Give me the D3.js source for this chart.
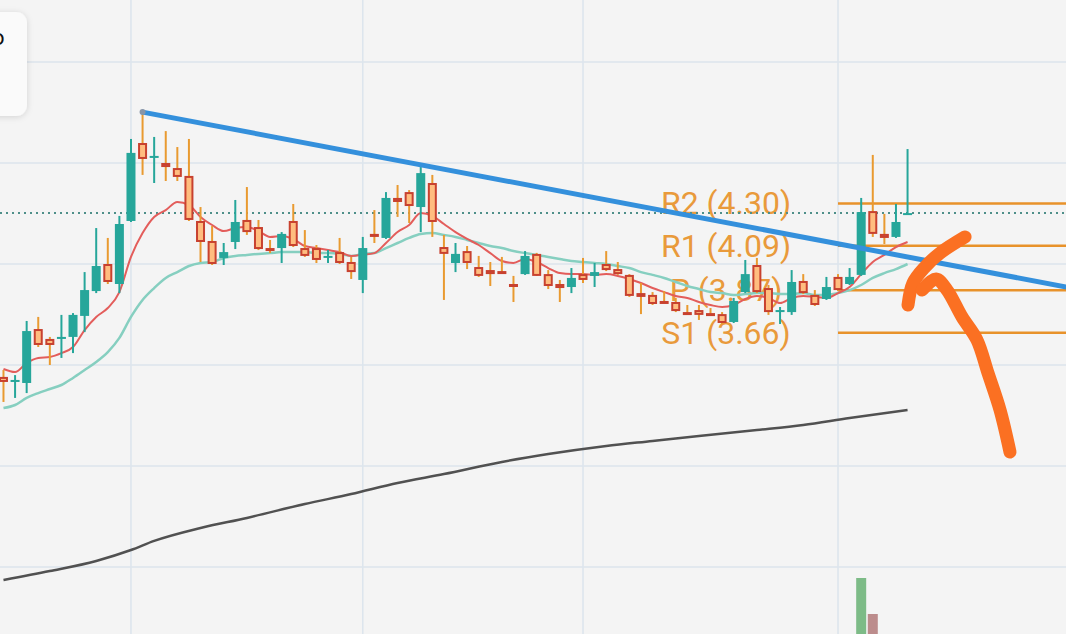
<!DOCTYPE html>
<html>
<head>
<meta charset="utf-8">
<title>Daily candles with pivots</title>
<script src="https://cdn.jsdelivr.net/npm/d3@7/dist/d3.min.js"></script>
<style>
  html, body { margin: 0; padding: 0; background: #f4f4f4; overflow: hidden; }
  svg { display: block; font-family: Roboto, "Noto Sans", sans-serif; }
</style>
</head>
<body>
<svg id="chart" width="1066" height="634"></svg>
<script>
// daily candles, oldest first
var opens = [
  3.441, 3.416, 3.411, 3.678, 3.629, 3.629, 3.639, 3.743, 3.866, 4.000,
  3.901, 4.213, 4.599, 4.530, 4.500, 4.475, 4.436, 4.213, 4.114, 4.030,
  4.109, 4.218, 4.183, 4.079, 4.079, 4.213, 4.079, 4.079, 4.035, 4.059,
  4.010, 3.921, 4.149, 4.129, 4.327, 4.356, 4.282, 4.401, 4.084, 4.005,
  4.064, 3.985, 3.970, 3.965, 3.901, 3.950, 4.050, 3.950, 3.901, 3.886,
  3.950, 3.941, 4.000, 3.975, 3.946, 3.856, 3.847, 3.817, 3.812, 3.762,
  3.772, 3.757, 3.752, 3.713, 3.861, 3.995, 3.881, 3.762, 3.762, 3.916,
  3.847, 3.827, 3.936, 3.901, 3.946, 4.262, 4.149, 4.134, 4.243];
var highs = [
  3.475, 3.450, 3.718, 3.738, 3.639, 3.748, 3.757, 3.960, 4.178, 4.129,
  4.238, 4.619, 4.752, 4.629, 4.658, 4.579, 4.619, 4.282, 4.188, 4.104,
  4.317, 4.381, 4.218, 4.119, 4.158, 4.297, 4.168, 4.094, 4.069, 4.129,
  4.035, 4.134, 4.267, 4.356, 4.391, 4.366, 4.480, 4.441, 4.144, 4.104,
  4.089, 4.040, 4.010, 4.035, 3.941, 4.064, 4.055, 3.970, 3.921, 3.980,
  4.030, 4.005, 4.064, 4.010, 3.950, 3.906, 3.861, 3.866, 3.832, 3.797,
  3.797, 3.782, 3.762, 3.832, 4.020, 4.030, 3.896, 3.787, 3.970, 3.950,
  3.871, 3.936, 3.950, 3.980, 4.327, 4.540, 4.248, 4.297, 4.569];
var lows = [
  3.317, 3.337, 3.361, 3.589, 3.500, 3.535, 3.559, 3.663, 3.856, 3.901,
  3.856, 4.208, 4.441, 4.401, 4.411, 4.411, 4.213, 4.010, 3.995, 3.995,
  4.074, 4.144, 4.069, 4.054, 4.005, 4.084, 4.035, 4.005, 4.005, 4.000,
  3.926, 3.856, 4.104, 4.124, 4.233, 4.203, 4.158, 4.134, 3.822, 3.960,
  3.975, 3.936, 3.891, 3.955, 3.812, 3.946, 3.941, 3.876, 3.812, 3.856,
  3.906, 3.886, 3.965, 3.946, 3.837, 3.752, 3.797, 3.807, 3.762, 3.752,
  3.723, 3.743, 3.703, 3.708, 3.856, 3.856, 3.748, 3.703, 3.748, 3.851,
  3.792, 3.822, 3.866, 3.896, 3.941, 4.134, 4.099, 4.129, 4.243];
var closes = [
  3.416, 3.426, 3.668, 3.599, 3.599, 3.639, 3.748, 3.871, 3.990, 3.911,
  4.198, 4.550, 4.520, 4.535, 4.480, 4.431, 4.218, 4.109, 4.000, 4.059,
  4.208, 4.158, 4.074, 4.069, 4.149, 4.089, 4.040, 4.020, 4.040, 4.005,
  3.960, 4.079, 4.134, 4.327, 4.307, 4.287, 4.450, 4.208, 4.050, 4.050,
  4.005, 3.941, 3.950, 3.960, 3.891, 4.040, 3.941, 3.891, 3.881, 3.931,
  3.921, 3.960, 3.970, 3.950, 3.842, 3.837, 3.802, 3.812, 3.767, 3.757,
  3.748, 3.748, 3.708, 3.817, 3.950, 3.861, 3.762, 3.772, 3.911, 3.856,
  3.797, 3.886, 3.871, 3.936, 4.257, 4.149, 4.129, 4.208, 4.252];

// moving averages, one value per candle
var maFast = [
  3.480, 3.465, 3.510, 3.535, 3.540, 3.559, 3.589, 3.673, 3.738, 3.782,
  3.861, 4.035, 4.153, 4.233, 4.267, 4.307, 4.292, 4.233, 4.193, 4.163,
  4.178, 4.183, 4.163, 4.134, 4.139, 4.124, 4.089, 4.079, 4.069, 4.059,
  4.040, 4.045, 4.054, 4.104, 4.158, 4.193, 4.252, 4.238, 4.198, 4.158,
  4.124, 4.094, 4.054, 4.015, 4.005, 4.025, 4.010, 3.980, 3.955, 3.950,
  3.950, 3.946, 3.950, 3.941, 3.926, 3.906, 3.881, 3.861, 3.842, 3.832,
  3.812, 3.797, 3.787, 3.797, 3.827, 3.842, 3.832, 3.807, 3.832, 3.842,
  3.837, 3.832, 3.856, 3.886, 3.950, 4.010, 4.045, 4.084, 4.109];
var maSlow = [
  3.287, 3.302, 3.337, 3.361, 3.381, 3.401, 3.436, 3.475, 3.515, 3.564,
  3.634, 3.738, 3.822, 3.881, 3.931, 3.960, 3.990, 4.005, 4.010, 4.030,
  4.040, 4.045, 4.050, 4.054, 4.059, 4.059, 4.059, 4.054, 4.054, 4.050,
  4.040, 4.050, 4.054, 4.079, 4.104, 4.129, 4.149, 4.153, 4.144, 4.134,
  4.119, 4.104, 4.089, 4.079, 4.064, 4.054, 4.045, 4.035, 4.025, 4.015,
  4.010, 4.005, 4.000, 3.990, 3.980, 3.960, 3.946, 3.931, 3.911, 3.891,
  3.876, 3.861, 3.856, 3.847, 3.851, 3.856, 3.856, 3.851, 3.851, 3.856,
  3.847, 3.847, 3.856, 3.871, 3.896, 3.931, 3.955, 3.975, 4.000];
// long average, read at a few candles
var maLongAt = [0, 4, 8, 11, 13, 17, 21, 26, 30, 34, 38, 43, 47, 52, 56, 60, 65, 69, 73, 78];
var maLong = [2.436, 2.480, 2.530, 2.584, 2.629, 2.693, 2.743, 2.812, 2.861, 2.916,
              2.960, 3.020, 3.059, 3.099, 3.124, 3.149, 3.178, 3.203, 3.238, 3.277];

// volume (only the bars that show at the bottom)
var volumeAt = [74, 75];
var volume = [8.2, 4.6];
var volumeUp = [true, false];

// pivot points of the current month
var pivotNames = ['R2', 'R1', 'P', 'S1'];
var pivotValues = [4.30, 4.09, 3.87, 3.66];
var pivotStart = 72;

// axis
var priceTicks = [2.5, 3.0, 3.5, 4.0, 4.5, 5.0];
var monthStarts = [11, 31, 50, 72];

// drawn trend line, [candle index, price]
var trendLine = [[12, 4.752], [91.7, 3.886]];
// hand drawn arrow, two strokes, [candle index, price]
var arrowStrokes = [
  [[82.96, 4.134], [80.8, 4.054], [79.5, 3.985], [78.47, 3.906], [78.04, 3.797]],
  [[79.25, 3.871], [80.46, 3.926], [81.41, 3.871], [82.7, 3.738], [83.99, 3.624],
   [84.94, 3.46], [85.98, 3.277], [86.84, 3.069]]
];

var W = 1066, H = 634;
var UP = '#26a69a', DN_WICK = '#e99a30', DN_FILL = '#ffbd7f', DN_EDGE = '#c8412f';

var x = d3.scaleLinear().domain([-0.3, 91.67]).range([0, W]);
var y = d3.scaleLinear().domain([2.5, 5.0]).range([567, 62]);
var volY = d3.scaleLinear().domain([0, 10]).range([660, 560]);

var svg = d3.select('#chart');
var defs = svg.append('defs');
var shadow = defs.append('filter').attr('id', 'shadow')
  .attr('x', '-50%').attr('y', '-50%').attr('width', '200%').attr('height', '200%');
shadow.append('feDropShadow').attr('dx', 0).attr('dy', 1).attr('stdDeviation', 3)
  .attr('flood-color', '#000').attr('flood-opacity', 0.14);

svg.append('rect').attr('width', W).attr('height', H).attr('fill', '#f4f4f4');

// grid
svg.append('g').selectAll('line').data(priceTicks).enter().append('line')
  .attr('x1', 0).attr('x2', W)
  .attr('y1', function(d){ return y(d); }).attr('y2', function(d){ return y(d); })
  .attr('stroke', '#dde5ed').attr('stroke-width', 1.6);
svg.append('g').selectAll('line').data(monthStarts).enter().append('line')
  .attr('x1', function(d){ return x(d); }).attr('x2', function(d){ return x(d); })
  .attr('y1', 0).attr('y2', H)
  .attr('stroke', '#dde5ed').attr('stroke-width', 1.6);

// volume
svg.append('g').selectAll('rect').data(volume).enter().append('rect')
  .attr('x', function(d, k){ return x(volumeAt[k]) - 5; })
  .attr('width', 10)
  .attr('y', function(d){ return volY(d); })
  .attr('height', function(d){ return volY(0) - volY(d); })
  .attr('fill', function(d, k){ return volumeUp[k] ? '#7dbb87' : '#bc8c8c'; });

var line = d3.line()
  .x(function(d){ return x(d[0]); })
  .y(function(d){ return y(d[1]); })
  .curve(d3.curveMonotoneX);

// long average
svg.append('path')
  .datum(maLong.map(function(v, k){ return [maLongAt[k], v]; }))
  .attr('d', line).attr('fill', 'none')
  .attr('stroke', '#515151').attr('stroke-width', 2.5);

// pivot levels and labels
var pg = svg.append('g');
pg.selectAll('line').data(pivotValues).enter().append('line')
  .attr('x1', x(pivotStart)).attr('x2', W)
  .attr('y1', function(d){ return y(d); }).attr('y2', function(d){ return y(d); })
  .attr('stroke', '#e8922a').attr('stroke-width', 2.5);
pg.selectAll('text').data(pivotValues).enter().append('text')
  .attr('x', x(pivotStart) - 112)
  .attr('y', function(d){ return y(d); })
  .attr('text-anchor', 'middle').attr('dominant-baseline', 'central')
  .attr('font-size', 32).attr('fill', '#e99a3b')
  .text(function(d, k){ return pivotNames[k] + ' (' + d.toFixed(2) + ')'; });

// last price
var last = closes[closes.length - 1];
svg.append('line')
  .attr('x1', 0).attr('x2', W).attr('y1', y(last)).attr('y2', y(last))
  .attr('stroke', '#4e8f89').attr('stroke-width', 2).attr('stroke-dasharray', '2,4');

// short averages
svg.append('path')
  .datum(maSlow.map(function(v, i){ return [i, v]; }))
  .attr('d', line).attr('fill', 'none')
  .attr('stroke', '#86cfc0').attr('stroke-width', 2.5);
svg.append('path')
  .datum(maFast.map(function(v, i){ return [i, v]; }))
  .attr('d', line).attr('fill', 'none')
  .attr('stroke', '#e35d5b').attr('stroke-width', 2);

// candles
var candles = opens.map(function(o, i){
  return {i: i, o: o, h: highs[i], l: lows[i], c: closes[i], up: closes[i] >= o};
});
var cg = svg.append('g').selectAll('g').data(candles).enter().append('g');
cg.append('line')
  .attr('x1', function(d){ return x(d.i); }).attr('x2', function(d){ return x(d.i); })
  .attr('y1', function(d){ return y(d.h); }).attr('y2', function(d){ return y(d.l); })
  .attr('stroke', function(d){ return d.up ? UP : DN_WICK; })
  .attr('stroke-width', 2);
cg.filter(function(d){ return d.up; }).append('rect')
  .attr('x', function(d){ return x(d.i) - 4.5; })
  .attr('width', 9)
  .attr('y', function(d){ return y(d.c); })
  .attr('height', function(d){ return Math.max(2, y(d.o) - y(d.c)); })
  .attr('fill', UP);
cg.filter(function(d){ return !d.up; }).append('rect')
  .attr('x', function(d){ return x(d.i) - 3.5; })
  .attr('width', 7)
  .attr('y', function(d){ return y(d.o) + 1; })
  .attr('height', function(d){ return Math.max(1, y(d.c) - y(d.o) - 2); })
  .attr('fill', DN_FILL).attr('stroke', DN_EDGE).attr('stroke-width', 2);

// trend line
svg.append('line')
  .attr('x1', x(trendLine[0][0])).attr('y1', y(trendLine[0][1]))
  .attr('x2', x(trendLine[1][0])).attr('y2', y(trendLine[1][1]))
  .attr('stroke', '#3490dc').attr('stroke-width', 5);
svg.append('circle')
  .attr('cx', x(trendLine[0][0])).attr('cy', y(trendLine[0][1])).attr('r', 3)
  .attr('fill', '#8795a8');

// hand drawn arrow
var pen = d3.line()
  .x(function(d){ return x(d[0]); })
  .y(function(d){ return y(d[1]); })
  .curve(d3.curveCatmullRom);
svg.append('g').selectAll('path').data(arrowStrokes).enter().append('path')
  .attr('d', pen).attr('fill', 'none')
  .attr('stroke', '#fb7022').attr('stroke-width', 13)
  .attr('stroke-linecap', 'round').attr('stroke-linejoin', 'round');

// popup card cut by the left edge
svg.append('rect')
  .attr('x', -30).attr('y', 12).attr('width', 57).attr('height', 104).attr('rx', 11)
  .attr('fill', '#fafafa').attr('filter', 'url(#shadow)');
svg.append('text')
  .attr('x', -8).attr('y', 45).attr('font-size', 22).attr('fill', '#111')
  .text('o');
</script>
</body>
</html>
